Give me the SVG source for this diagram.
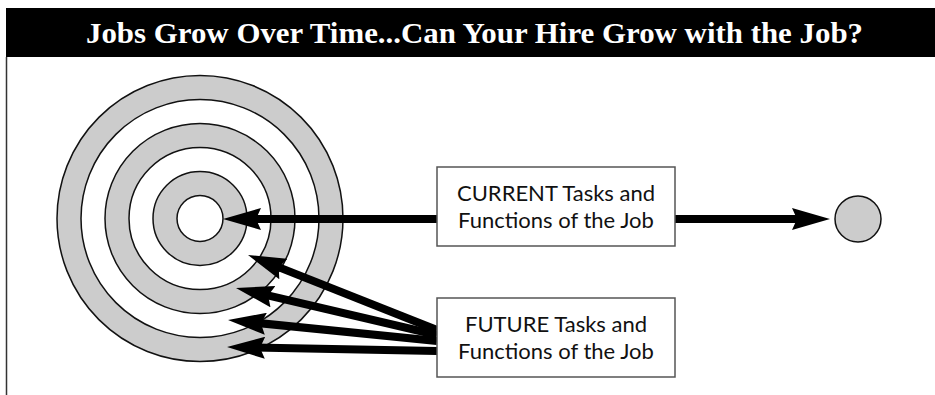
<svg xmlns="http://www.w3.org/2000/svg" width="935" height="395" viewBox="0 0 935 395">
<style>
.title{font-family:"Liberation Serif","DejaVu Serif",serif;font-weight:bold;font-size:29px;fill:#fff}
.lbl{font-family:Lato,"Open Sans","Liberation Sans",sans-serif;font-size:22px;fill:#111;text-anchor:middle}
.box{fill:#fff;stroke:#555;stroke-width:1.5}
.ring{stroke:#111;stroke-width:1.5}
.g{fill:#ccc}
.w{fill:#fff}
.arr{stroke:#000;stroke-width:8;fill:none;marker-end:url(#ah)}
</style>
<defs>
<marker id="ah" markerUnits="userSpaceOnUse" viewBox="0 0 38 22" refX="12" refY="11" markerWidth="38" markerHeight="22" orient="auto">
<path d="M0,0 L38,11 L0,22 L5,11 z" fill="#000"/>
</marker>
</defs>
<rect width="935" height="395" fill="#fff"/>
<g id="header">
<rect x="6" y="8" width="929" height="49" fill="#000"/>
<text class="title" x="86" y="43" textLength="777" lengthAdjust="spacingAndGlyphs">Jobs Grow Over Time...Can Your Hire Grow with the Job?</text>
</g>
<line x1="6.5" y1="57" x2="6.5" y2="395" stroke="#333" stroke-width="1.5"/>
<g id="target">
<circle class="ring g" cx="200" cy="218.5" r="143"/>
<circle class="ring w" cx="200" cy="218.5" r="119"/>
<circle class="ring g" cx="200" cy="218.5" r="95"/>
<circle class="ring w" cx="200" cy="218.5" r="71"/>
<circle class="ring g" cx="200" cy="218.5" r="47"/>
<circle class="ring w" cx="200" cy="218.5" r="23"/>
</g>
<g id="connectors">
<line class="arr" x1="437" y1="219" x2="249" y2="219"/>
<line class="arr" x1="675" y1="219" x2="804" y2="219"/>
<line class="arr" x1="437" y1="330" x2="272.2" y2="264.6"/>
<line class="arr" x1="437" y1="335" x2="261.3" y2="293.9"/>
<line class="arr" x1="437" y1="341" x2="253.9" y2="322.6"/>
<line class="arr" x1="437" y1="351" x2="253" y2="347.5"/>
</g>
<g id="dot">
<circle class="ring g" cx="858" cy="219" r="23"/>
</g>
<g id="current">
<rect class="box" x="437" y="167" width="238" height="79"/>
<text class="lbl" x="556" y="201">CURRENT Tasks and</text>
<text class="lbl" x="556" y="228">Functions of the Job</text>
</g>
<g id="future">
<rect class="box" x="437" y="298" width="238" height="79"/>
<text class="lbl" x="556" y="332">FUTURE Tasks and</text>
<text class="lbl" x="556" y="359">Functions of the Job</text>
</g>
</svg>
